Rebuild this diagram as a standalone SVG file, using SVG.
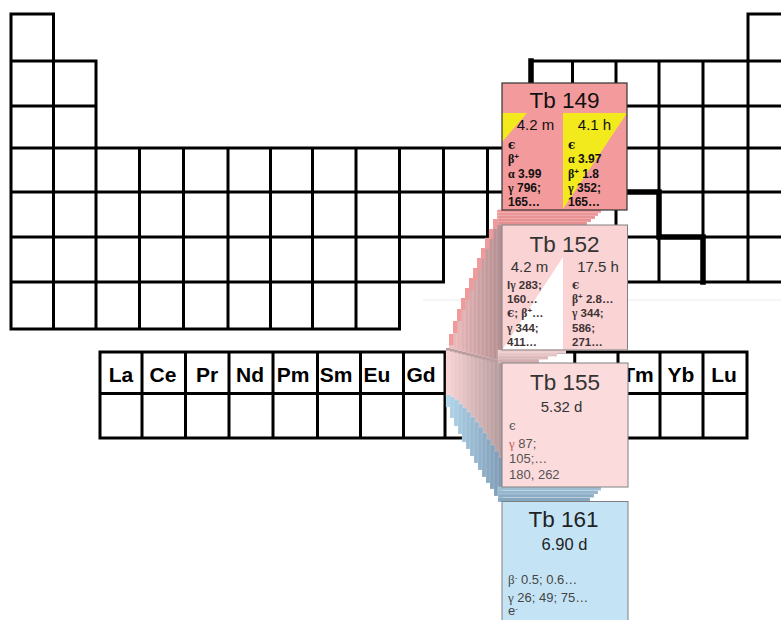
<svg xmlns="http://www.w3.org/2000/svg" width="781" height="620" viewBox="0 0 781 620">
<style>
.grid{fill:none;stroke:#000;stroke-width:3;stroke-linecap:square}
.thick{fill:none;stroke:#000;stroke-width:5.5;stroke-linecap:square;stroke-linejoin:miter}
.lab{font-family:"Liberation Sans",Arial,sans-serif;font-weight:bold;font-size:21px;text-anchor:middle;fill:#000}
.s{stroke:#fff;stroke-opacity:.3;stroke-width:.6}
.cap{stroke:none}
.t{font-family:"Liberation Sans",Arial,sans-serif;font-size:22.5px;text-anchor:middle}
.h{font-family:"Liberation Sans",Arial,sans-serif;font-size:15px;text-anchor:middle}
.b{font-family:"Liberation Sans",Arial,sans-serif;font-size:12px;font-weight:bold}
.r{font-family:"Liberation Sans",Arial,sans-serif;font-size:13px}
.g{font-family:"Liberation Serif","Times New Roman",serif}
.e{font-family:"DejaVu Serif",serif;font-size:12px}
</style>
<rect width="781" height="620" fill="#fff"/>

<g id="periodic-table">
<path class="grid" d="M11,14H53.5M748,14H791M11,61H96M530.5,61H791M11,106H96M530.5,106H791M11,148H791M11,192H791M11,237H791M11,282H443.5M487.5,282H791M11,329H399.5
M11,14V329M53.5,14V329M96,61V329M139.5,148V329M183.5,148V329M228,148V329M270.5,148V329M312.5,148V329M356,148V329M399.5,148V329M443.5,148V282M487.5,148V282M530.5,61V282M572.5,61V282M616,61V282M659,61V282M703,61V282M748,14V282M791,14V282"/>
<path class="thick" d="M531,61V106H572.5V148H616V192H659V237H703V282"/>
<line x1="423" y1="300" x2="781" y2="300" stroke="#ececec" stroke-width="1"/>
</g>

<g id="lanthanides">
<path class="grid" d="M100,352H747M100,393.5H747M100,438H747M100,352V438M142,352V438M185.5,352V438M229,352V438M273,352V438M317.5,352V438M360.5,352V438M403.5,352V438M445,352V438M488.25,352V438M531.5,352V438M574.75,352V438M618,352V438M660,352V438M703,352V438M747,352V438"/>
<text class="lab" x="121" y="382">La</text>
<text class="lab" x="163" y="382">Ce</text>
<text class="lab" x="207" y="382">Pr</text>
<text class="lab" x="250" y="382">Nd</text>
<text class="lab" x="293" y="382">Pm</text>
<text class="lab" x="336" y="382">Sm</text>
<text class="lab" x="377" y="382">Eu</text>
<text class="lab" x="421" y="382">Gd</text>
<text class="lab" x="638" y="382">Tm</text>
<text class="lab" x="681" y="382">Yb</text>
<text class="lab" x="724" y="382">Lu</text>
</g>

<g id="connectors">
<g class="s">
<rect x="449" y="334" width="5" height="31" fill="#efbcbe"/>
<rect x="453" y="321" width="5" height="44" fill="#eab8ba"/>
<rect x="457" y="309" width="5" height="56" fill="#e5b5b7"/>
<rect x="461" y="298" width="5" height="67" fill="#e1b1b3"/>
<rect x="465" y="288" width="5" height="77" fill="#dcadaf"/>
<rect x="469" y="278" width="5" height="87" fill="#d7a9ab"/>
<rect x="473" y="268" width="5" height="97" fill="#d2a6a8"/>
<rect x="477" y="258" width="5" height="107" fill="#cda2a4"/>
<rect x="481" y="248" width="5" height="117" fill="#c89ea0"/>
<rect x="485" y="238" width="5" height="127" fill="#c49a9c"/>
<rect x="489" y="229" width="5" height="136" fill="#bf9799"/>
<rect x="493" y="219" width="5" height="146" fill="#ba9395"/>
<rect x="497" y="210" width="5" height="155" fill="#b58f91"/>
</g>
<g fill="#f19a9c" class="cap">
<rect x="449" y="334" width="4.4" height="11"/>
<rect x="453" y="321" width="4.4" height="12"/>
<rect x="457" y="309" width="4.4" height="12"/>
<rect x="461" y="298" width="4.4" height="12"/>
<rect x="465" y="288" width="4.4" height="12"/>
<rect x="469" y="278" width="4.4" height="12"/>
<rect x="473" y="268" width="4.4" height="12"/>
<rect x="477" y="258" width="4.4" height="12"/>
<rect x="481" y="248" width="4.4" height="11"/>
<rect x="485" y="238" width="4.4" height="11"/>
<rect x="489" y="229" width="4.4" height="10"/>
<rect x="493" y="219" width="4.4" height="10"/>
<rect x="497" y="210" width="5" height="10"/>
</g>
<g class="s">
<rect x="446" y="348" width="5" height="49" fill="#f8d2d3"/>
<rect x="450" y="349" width="5" height="50" fill="#f3cecf"/>
<rect x="454" y="350" width="5" height="52" fill="#eec9cb"/>
<rect x="458" y="351" width="5" height="55" fill="#e9c5c6"/>
<rect x="462" y="352" width="5" height="58" fill="#e4c1c2"/>
<rect x="466" y="353" width="5" height="61" fill="#dfbcbe"/>
<rect x="470" y="354" width="5" height="65" fill="#dab8ba"/>
<rect x="474" y="355" width="5" height="69" fill="#d4b4b5"/>
<rect x="478" y="356" width="5" height="73" fill="#cfb0b1"/>
<rect x="482" y="357" width="5" height="78" fill="#caabad"/>
<rect x="486" y="358" width="5" height="83" fill="#c5a7a9"/>
<rect x="490" y="359" width="5" height="88" fill="#c0a3a4"/>
<rect x="494" y="360" width="5" height="93" fill="#bb9ea0"/>
<rect x="498" y="361" width="5" height="98" fill="#b69a9c"/>
</g>
<g fill="#b99c9d" class="cap">
<rect x="446" y="348" width="4.4" height="2.5"/>
<rect x="450" y="349" width="4.4" height="2.5"/>
<rect x="454" y="350" width="4.4" height="2.5"/>
<rect x="458" y="351" width="4.4" height="2.5"/>
<rect x="462" y="352" width="4.4" height="2.5"/>
<rect x="466" y="353" width="4.4" height="2.5"/>
<rect x="470" y="354" width="4.4" height="2.5"/>
<rect x="474" y="355" width="4.4" height="2.5"/>
<rect x="478" y="356" width="4.4" height="2.5"/>
<rect x="482" y="357" width="4.4" height="2.5"/>
<rect x="486" y="358" width="4.4" height="2.5"/>
<rect x="490" y="359" width="4.4" height="2.5"/>
<rect x="494" y="360" width="4.4" height="2.5"/>
<rect x="498" y="361" width="4.4" height="2.5"/>
</g>
<g class="s">
<rect x="446" y="395" width="5" height="12" fill="#b0d4ea"/>
<rect x="450" y="397" width="5" height="21" fill="#acd0e6"/>
<rect x="454" y="400" width="5" height="26" fill="#a8cce2"/>
<rect x="458" y="404" width="5" height="30" fill="#a5c7de"/>
<rect x="462" y="408" width="5" height="34" fill="#a1c3da"/>
<rect x="466" y="412" width="5" height="37" fill="#9dbfd6"/>
<rect x="470" y="417" width="5" height="39" fill="#99bbd2"/>
<rect x="474" y="422" width="5" height="41" fill="#96b7cf"/>
<rect x="478" y="427" width="5" height="43" fill="#92b2cb"/>
<rect x="482" y="433" width="5" height="44" fill="#8eaec7"/>
<rect x="486" y="439" width="5" height="44" fill="#8aaac3"/>
<rect x="490" y="445" width="5" height="44" fill="#87a5bf"/>
<rect x="494" y="451" width="5" height="45" fill="#83a1bb"/>
<rect x="498" y="457" width="5" height="45" fill="#7f9db7"/>
</g>
<g class="s">
<rect x="498" y="209.5" width="103" height="3.5" fill="#ef9799"/>
<rect x="498" y="212.5" width="100" height="3.5" fill="#ec9597"/>
<rect x="498" y="215.5" width="97" height="3.5" fill="#ea9395"/>
<rect x="498" y="218.5" width="93" height="3.5" fill="#e89193"/>
<rect x="498" y="221.5" width="89" height="3.5" fill="#e68f91"/>
<rect x="498" y="350" width="68" height="3.5" fill="#efcdce"/>
<rect x="498" y="353" width="59" height="3.5" fill="#e6c3c4"/>
<rect x="498" y="356" width="50" height="3.5" fill="#dcb8ba"/>
<rect x="498" y="359" width="41" height="4" fill="#d2aeb0"/>
<rect x="498" y="487" width="103" height="3.5" fill="#9dbdd3"/>
<rect x="498" y="490.5" width="100" height="3.5" fill="#94b5cc"/>
<rect x="498" y="494" width="96" height="3.5" fill="#8cadc6"/>
<rect x="498" y="497.5" width="92" height="4.5" fill="#86a7c0"/>
</g>
</g>

<g id="tb149">
<rect x="502" y="83" width="125" height="127" fill="#f39a9c"/>
<polygon points="502,113 527,113 502,142" fill="#f2ea1c"/>
<polygon points="563,113 627,113 563,209" fill="#f2ea1c"/>
<rect x="502" y="83" width="125" height="127" fill="none" stroke="#333" stroke-width="1.2"/>
<text class="t" x="564.5" y="108" fill="#111">Tb 149</text>
<text class="h" x="535.5" y="130" fill="#111">4.2 m</text>
<text class="h" x="594.5" y="130" fill="#111">4.1 h</text>
<g class="b" fill="#111">
<text x="508" y="149"><tspan class="e">ϵ</tspan></text>
<text x="508" y="163"><tspan class="g">β</tspan><tspan font-size="8" dy="-4">+</tspan></text>
<text x="508" y="178"><tspan class="g">α</tspan> 3.99</text>
<text x="508" y="192"><tspan class="g">γ</tspan> 796;</text>
<text x="508" y="206">165…</text>
<text x="568" y="149"><tspan class="e">ϵ</tspan></text>
<text x="568" y="163"><tspan class="g">α</tspan> 3.97</text>
<text x="568" y="178"><tspan class="g">β</tspan><tspan font-size="8" dy="-4">+</tspan><tspan dy="4"> 1.8</tspan></text>
<text x="568" y="192"><tspan class="g">γ</tspan> 352;</text>
<text x="568" y="206">165…</text>
</g>
</g>

<g id="tb152">
<rect x="502" y="225" width="125.5" height="125" fill="#fad3d4"/>
<polygon points="563,257 563,349.5 502.5,349.5" fill="#fff"/>
<rect x="502" y="225" width="125.5" height="125" fill="none" stroke="#808080" stroke-width="1"/>
<text class="t" x="564.5" y="252" fill="#333">Tb 152</text>
<text class="h" x="529.5" y="272" fill="#333">4.2 m</text>
<text class="h" x="598" y="272" fill="#333">17.5 h</text>
<g class="b" fill="#3f3434" style="font-size:11.5px">
<text x="507" y="289">I<tspan class="g">γ</tspan> 283;</text>
<text x="507" y="303">160…</text>
<text x="507" y="317"><tspan class="e">ϵ</tspan>; <tspan class="g">β</tspan><tspan font-size="8" dy="-4">+</tspan><tspan dy="4">…</tspan></text>
<text x="507" y="331.5"><tspan class="g">γ</tspan> 344;</text>
<text x="507" y="345.5">411…</text>
<text x="572" y="289"><tspan class="e">ϵ</tspan></text>
<text x="572" y="303"><tspan class="g">β</tspan><tspan font-size="8" dy="-4">+</tspan><tspan dy="4"> 2.8…</tspan></text>
<text x="572" y="317"><tspan class="g">γ</tspan> 344;</text>
<text x="572" y="331.5">586;</text>
<text x="572" y="345.5">271…</text>
</g>
</g>

<g id="tb155">
<rect x="502" y="363" width="126" height="124" fill="#fcdbdc" stroke="#808080" stroke-width="1"/>
<text class="t" x="565" y="390" fill="#333">Tb 155</text>
<text class="h" x="561.5" y="412" fill="#333">5.32 d</text>
<g class="r" fill="#555">
<text x="509" y="430"><tspan class="e">ϵ</tspan></text>
<text x="509" y="448"><tspan class="g" fill="#c25a5a">γ</tspan> 87;</text>
<text x="509" y="463">105;…</text>
<text x="509" y="479">180, 262</text>
</g>
</g>

<g id="tb161">
<rect x="502" y="501.5" width="126" height="130" fill="#c4e4f6" stroke="#808080" stroke-width="1"/>
<text class="t" x="563.5" y="527" fill="#222">Tb 161</text>
<text class="h" x="564.5" y="550" fill="#222" style="font-size:16.5px">6.90 d</text>
<g class="r" fill="#444">
<text x="508" y="583.5"><tspan class="g">β</tspan><tspan font-size="8" dy="-4">-</tspan><tspan dy="4"> 0.5; 0.6…</tspan></text>
<text x="508" y="601.5"><tspan class="g">γ</tspan> 26; 49; 75…</text>
<text x="508" y="615">e<tspan font-size="8" dy="-4">-</tspan></text>
</g>
</g>
</svg>
